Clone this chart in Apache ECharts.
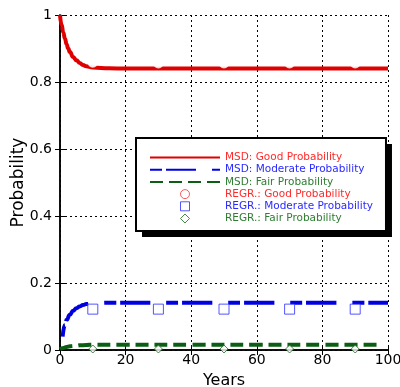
<!DOCTYPE html>
<html><head><meta charset="utf-8">
<script src="https://cdn.jsdelivr.net/npm/echarts@6/dist/echarts.min.js"></script>
<style>html,body{margin:0;padding:0;background:#fff}#c{width:400px;height:387px}</style>
</head><body><div id="c"></div>
<script>
const goodYears = [0, 0.5, 1, 1.5, 2, 2.5, 3, 4, 5, 6, 7, 8, 10, 15, 20, 40, 60, 80, 100];
const msdGood   = [1, 0.97, 0.948, 0.93, 0.913, 0.9, 0.89, 0.875, 0.865, 0.857, 0.851, 0.847, 0.843, 0.841, 0.84, 0.84, 0.84, 0.84, 0.84];
const modYears  = [0.8, 1.5, 2, 3, 4, 5, 6, 7, 8, 10, 15, 20, 40, 60, 80, 100];
const msdMod    = [0.04, 0.075, 0.09, 0.105, 0.117, 0.125, 0.13, 0.134, 0.137, 0.14, 0.141, 0.141, 0.141, 0.141, 0.141, 0.141];
const fairYears = [0, 1, 2, 3, 4, 5, 6, 8, 10, 20, 40, 60, 80, 97];
const msdFair   = [0.002, 0.006, 0.009, 0.011, 0.012, 0.013, 0.014, 0.015, 0.016, 0.016, 0.016, 0.016, 0.016, 0.016];
const regrYears = [10, 30, 50, 70, 90];
const regrGood  = [0.859, 0.857, 0.857, 0.857, 0.857];
const regrMod   = [0.122, 0.122, 0.122, 0.122, 0.122];
const regrFair  = [0.003, 0.003, 0.003, 0.003, 0.003];
const names = ['MSD: Good Probability','MSD: Moderate Probability','MSD: Fair Probability',
               'REGR.: Good Probability','REGR.: Moderate Probability','REGR.: Fair Probability'];
const xTicks = [0, 20, 40, 60, 80, 100];
const yTicks = [0, 0.2, 0.4, 0.6, 0.8, 1];

const RED = '#e00000', BLUE = '#0000e0', GREEN = '#0b5e14';
const TRED = '#ff2a2a', TBLUE = '#2a2aff', TGREEN = '#2e7d32';
const pair = (xs, ys) => xs.map((x, i) => [x, ys[i]]);
const FONT = 'DejaVu Sans, sans-serif';
const SQUARE = 'path://M0,0H10V10H0Z';
const DIAMOND = 'path://M5,0L10,5L5,10L0,5Z';

const chart = echarts.init(document.getElementById('c'));
const split = { show: true, lineStyle: { color: '#000', type: [2, 3], width: 1 } };
const hidden = { opacity: 0 };
const legendBase = {
  orient: 'vertical', left: 136, top: 138,
  padding: [14, 13, 7, 13], itemWidth: 70, itemHeight: 9, itemGap: 1.2,
  symbolKeepAspect: true, selectedMode: false
};
chart.setOption({
  animation: false,
  grid: { left: 60, right: 12, top: 15, bottom: 37, containLabel: false, outerBoundsMode: 'none' },
  xAxis: [{
    type: 'value', min: 0, max: 100, interval: 20, position: 'bottom',
    name: 'Years', nameLocation: 'middle', nameGap: 23, nameMoveOverlap: false,
    nameTextStyle: { fontFamily: FONT, fontSize: 16, color: '#000' },
    axisLine: { lineStyle: { color: '#000', width: 1.5 } },
    axisTick: { inside: true, length: 5, lineStyle: { color: '#000' } },
    axisLabel: { fontFamily: FONT, fontSize: 14, color: '#000', margin: 3,
      formatter: v => xTicks.includes(v) ? String(v) : '' },
    splitLine: split
  }, {
    type: 'value', min: 0, max: 100, interval: 20, position: 'top',
    axisLine: { lineStyle: { color: '#000', width: 1.5 } },
    axisTick: { inside: true, length: 5, lineStyle: { color: '#000' } },
    axisLabel: { show: false }, splitLine: { show: false }
  }],
  yAxis: [{
    type: 'value', min: 0, max: 1, interval: 0.2, position: 'left',
    name: 'Probability', nameLocation: 'middle', nameGap: 33, nameMoveOverlap: false,
    nameTextStyle: { fontFamily: FONT, fontSize: 17, color: '#000' },
    axisLine: { lineStyle: { color: '#000', width: 1.5 } },
    axisTick: { inside: true, length: 5, lineStyle: { color: '#000' } },
    axisLabel: { fontFamily: FONT, fontSize: 14, color: '#000', margin: 8,
      formatter: v => { const t = yTicks.find(k => Math.abs(k - v) < 1e-9); return t === undefined ? '' : String(t); } },
    splitLine: split
  }, {
    type: 'value', min: 0, max: 1, interval: 0.2, position: 'right',
    axisLine: { lineStyle: { color: '#000', width: 1.5 } },
    axisTick: { inside: true, length: 5, lineStyle: { color: '#000' } },
    axisLabel: { show: false }, splitLine: { show: false }
  }],
  legend: [Object.assign({}, legendBase, {
    z: 10,
    backgroundColor: '#fff', borderWidth: 0,
    shadowColor: '#000', shadowBlur: 0, shadowOffsetX: 6, shadowOffsetY: 6,
    textStyle: { fontFamily: FONT, fontSize: 10.5 },
    data: [
      { name: names[0], itemStyle: hidden, textStyle: { color: TRED } },
      { name: names[1], itemStyle: hidden, textStyle: { color: TBLUE } },
      { name: names[2], itemStyle: hidden, textStyle: { color: TGREEN } },
      { name: names[3], icon: 'circle', itemStyle: { color: '#fff', borderColor: '#ff3030', borderWidth: 1 }, textStyle: { color: TRED } },
      { name: names[4], icon: SQUARE, itemStyle: { color: '#fff', borderColor: '#2a2aff', borderWidth: 1 }, textStyle: { color: TBLUE } },
      { name: names[5], icon: DIAMOND, itemStyle: { color: '#fff', borderColor: '#1a6b1a', borderWidth: 1 }, textStyle: { color: TGREEN } }
    ]
  }), Object.assign({}, legendBase, {
    z: 11,
    backgroundColor: 'transparent', borderColor: '#000', borderWidth: 2,
    textStyle: { fontFamily: FONT, fontSize: 10.5, color: 'rgba(0,0,0,0)' },
    itemStyle: { opacity: 0 }, lineStyle: { opacity: 0 },
    data: names.map(n => ({ name: n, itemStyle: hidden, lineStyle: { opacity: 0 } }))
  })],
  series: [
    { name: names[0], type: 'line', smooth: true, smoothMonotone: 'x', showSymbol: false, symbol: 'none', color: RED,
      lineStyle: { color: RED, width: 4 }, data: pair(goodYears, msdGood), z: 3 },
    { name: names[1], type: 'line', smooth: true, smoothMonotone: 'x', showSymbol: false, symbol: 'none', color: BLUE,
      lineStyle: { color: BLUE, width: 4, type: [12, 4, 30, 16] }, data: pair(modYears, msdMod), z: 3 },
    { name: names[2], type: 'line', smooth: true, smoothMonotone: 'x', showSymbol: false, symbol: 'none', color: GREEN,
      lineStyle: { color: GREEN, width: 4, type: [13, 6] }, data: pair(fairYears, msdFair), z: 3 },
    { name: names[3], type: 'scatter', symbol: 'emptyCircle', symbolSize: 9, color: RED,
      itemStyle: { color: '#fff', borderColor: '#ff3030', borderWidth: 1 }, data: pair(regrYears, regrGood), z: 4 },
    { name: names[4], type: 'scatter', symbol: 'rect', symbolSize: 10, color: BLUE,
      itemStyle: { color: '#fff', borderColor: '#2a2aff', borderWidth: 1 }, data: pair(regrYears, regrMod), z: 4 },
    { name: names[5], type: 'scatter', symbol: 'diamond', symbolSize: 8, color: GREEN,
      itemStyle: { color: '#fff', borderColor: '#1a6b1a', borderWidth: 1 }, data: pair(regrYears, regrFair), z: 4 }
  ]
});
</script></body></html>
